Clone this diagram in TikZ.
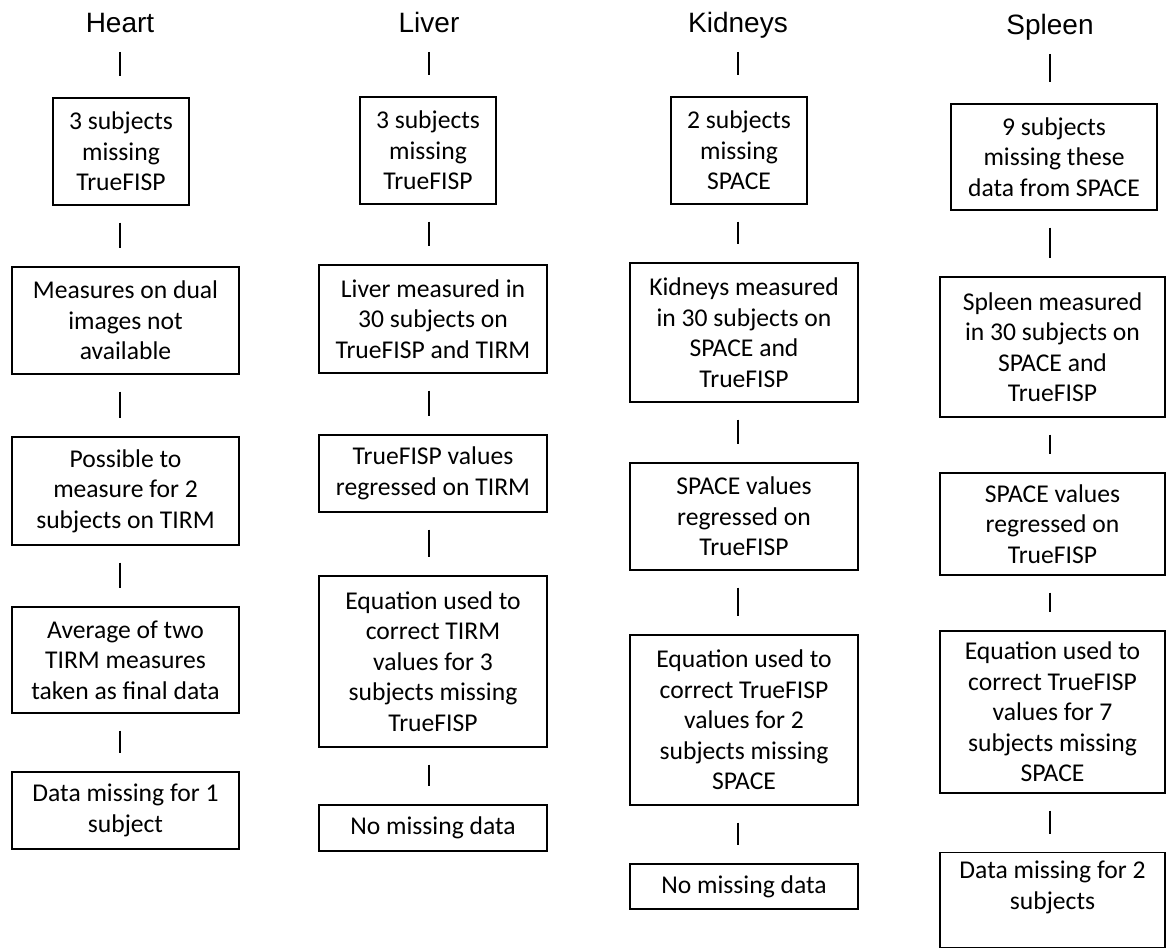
\documentclass[tikz,border=0pt]{standalone}
\usepackage{fontspec}
\setmainfont{Carlito}
\newfontfamily\headfont{Liberation Sans}

\tikzset{
  organ/.style={anchor=base, inner sep=0pt, font=\headfont\fontsize{28}{30}\selectfont},
  stepbox/.style={draw, line width=1.3pt, align=center, inner sep=2pt,
    font=\fontsize{25.6}{30.5}\selectfont},
  link/.style={line width=1.3pt, shorten <=17pt, shorten >=18pt},
  headlink/.style={line width=1.3pt, shorten <=19pt, shorten >=21pt}
}

\begin{document}
\begin{tikzpicture}[x=1pt, y=-1pt]
    \useasboundingbox (0,0) rectangle (1166,949);
    % column headers
    \node[organ] (heart) at (120,33) {Heart};
    \node[organ] (liver) at (429,33) {Liver};
    \node[organ] (kidneys) at (738,33) {Kidneys};
    \node[organ] (spleen) at (1050,35) {Spleen};

    % heart
    \node[stepbox, minimum width=136pt, minimum height=107pt] (h1) at (121,151.5) {3 subjects\\missing\\TrueFISP};
    \node[stepbox, minimum width=227pt, minimum height=107pt] (h2) at (125.5,320.5) {Measures on dual\\images not\\available};
    \node[stepbox, minimum width=227pt, minimum height=108pt] (h3) at (125.5,491) {Possible to\\measure for 2\\subjects on TIRM};
    \node[stepbox, minimum width=227pt, minimum height=106pt] (h4) at (125.5,660) {Average of two\\TIRM measures\\taken as final data};
    \node[stepbox, minimum width=227pt, minimum height=77pt] (h5) at (125.5,810.5) {Data missing for 1\\subject};

    % liver
    \node[stepbox, minimum width=136pt, minimum height=107pt] (l1) at (428,150.5) {3 subjects\\missing\\TrueFISP};
    \node[stepbox, minimum width=228pt, minimum height=108pt] (l2) at (433,319) {Liver measured in\\30 subjects on\\TrueFISP and TIRM};
    \node[stepbox, minimum width=228pt, minimum height=77pt] (l3) at (433,473.5) {TrueFISP values\\regressed on TIRM};
    \node[stepbox, minimum width=228pt, minimum height=171pt] (l4) at (433,661.5) {Equation used to\\correct TIRM\\values for 3\\subjects missing\\TrueFISP};
    \node[stepbox, minimum width=228pt, minimum height=46pt] (l5) at (433,828) {No missing data};

    % kidneys
    \node[stepbox, minimum width=136pt, minimum height=107pt] (k1) at (739,150.5) {2 subjects\\missing\\SPACE};
    \node[stepbox, minimum width=228pt, minimum height=139pt] (k2) at (744,332.5) {Kidneys measured\\in 30 subjects on\\SPACE and\\TrueFISP};
    \node[stepbox, minimum width=228pt, minimum height=107pt] (k3) at (744,516.5) {SPACE values\\regressed on\\TrueFISP};
    \node[stepbox, minimum width=228pt, minimum height=170pt] (k4) at (744,720) {Equation used to\\correct TrueFISP\\values for 2\\subjects missing\\SPACE};
    \node[stepbox, minimum width=228pt, minimum height=45pt] (k5) at (744,886.5) {No missing data};

    % spleen
    \node[stepbox, minimum width=206pt, minimum height=106pt] (s1) at (1054,157) {9 subjects\\missing these\\data from SPACE};
    \node[stepbox, minimum width=225pt, minimum height=140pt] (s2) at (1052.5,347) {Spleen measured\\in 30 subjects on\\SPACE and\\TrueFISP};
    \node[stepbox, minimum width=225pt, minimum height=102pt] (s3) at (1052.5,524) {SPACE values\\regressed on\\TrueFISP};
    \node[stepbox, minimum width=225pt, minimum height=162pt] (s4) at (1052.5,712) {Equation used to\\correct TrueFISP\\values for 7\\subjects missing\\SPACE};
    \node[stepbox, minimum width=225pt, minimum height=95pt, text depth=30pt] (s5) at (1052.5,900) {Data missing for 2\\subjects};

    % connectors
    \draw[headlink] (heart.base) -- (heart |- h1.north);
    \draw[headlink] (liver.base) -- (liver |- l1.north);
    \draw[headlink] (kidneys.base) -- (kidneys |- k1.north);
    \draw[headlink] (spleen.base) -- (spleen |- s1.north);
    \foreach \a/\b in {h1/h2, h2/h3, h3/h4, h4/h5}
        \draw[link] (heart |- \a.south) -- (heart |- \b.north);
    \foreach \a/\b in {l1/l2, l2/l3, l3/l4, l4/l5}
        \draw[link] (liver |- \a.south) -- (liver |- \b.north);
    \foreach \a/\b in {k1/k2, k2/k3, k3/k4, k4/k5}
        \draw[link] (kidneys |- \a.south) -- (kidneys |- \b.north);
    \foreach \a/\b in {s1/s2, s2/s3, s3/s4, s4/s5}
        \draw[link] (spleen |- \a.south) -- (spleen |- \b.north);
\end{tikzpicture}
\end{document}
